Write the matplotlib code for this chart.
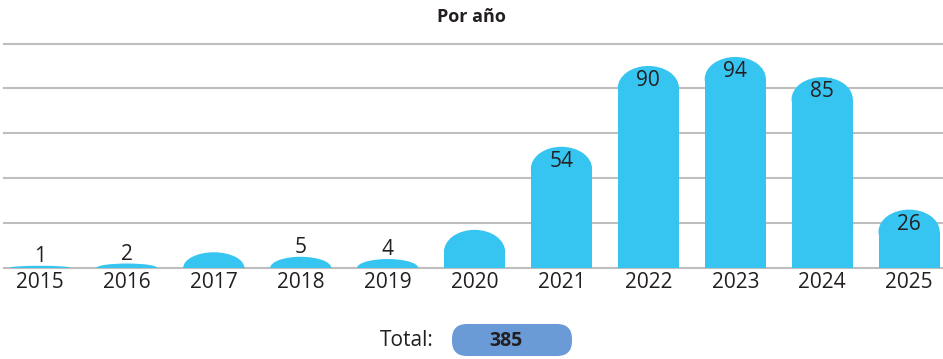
import numpy as np
import matplotlib.pyplot as plt
from matplotlib.patches import Ellipse, FancyBboxPatch

plt.rcParams['font.family'] = ['Liberation Sans Narrow', 'Open Sans', 'DejaVu Sans']

# Publications per year
years = ['2015', '2016', '2017', '2018', '2019', '2020',
         '2021', '2022', '2023', '2024', '2025']
counts = [1, 2, 7, 5, 4, 17, 54, 90, 94, 85, 26]
show_label = [True, True, False, True, True, False,
              True, True, True, True, True]
total = 385

BAR_COLOR = '#36C5F1'
PILL_COLOR = '#6A9BD7'
TEXT_COLOR = '#231F20'
GRID_COLOR = '#BEBEBE'

W, H = 943, 359
fig = plt.figure(figsize=(W / 100, H / 100), dpi=100)

# main axes: baseline at y=268 px, value 100 at y=43.5 px
ax = fig.add_axes([4 / W, 1 - 268 / H, 1 - 4 / W, (268 - 43.5) / H])
ax.set_xlim(-0.414, 10.39)
ax.set_ylim(0, 100)

for g in range(0, 101, 20):
    ax.axhline(g, color=GRID_COLOR, lw=1.5, zorder=1, clip_on=False)

x = np.arange(len(years))
width = 0.704
cap = 9.8  # height of the rounded top, in data units

vals = np.array(counts, dtype=float)
caps = np.minimum(vals, cap)
ax.bar(x, vals - caps, width=width, color=BAR_COLOR, zorder=2, linewidth=0)
for xi, v, c in zip(x, vals, caps):
    ax.add_patch(Ellipse((xi, v - c), width, 2 * c, facecolor=BAR_COLOR,
                         edgecolor='none', zorder=2))

for xi, v, show in zip(x, counts, show_label):
    if not show:
        continue
    if v >= 10:
        ax.annotate(str(v), (xi, v), xytext=(0, -10.5), textcoords='offset points',
                    ha='center', va='center', fontsize=15, color=TEXT_COLOR, zorder=3)
    else:
        ax.annotate(str(v), (xi, v), xytext=(0, 6.5), textcoords='offset points',
                    ha='center', va='center', fontsize=15, color=TEXT_COLOR, zorder=3)

ax.set_xticks(x)
ax.set_xticklabels(years, fontsize=15, color=TEXT_COLOR)
ax.tick_params(axis='x', length=0, pad=3)
ax.set_yticks([])
for s in ax.spines.values():
    s.set_visible(False)

# overlay in pixel coordinates for title and total box
ov = fig.add_axes([0, 0, 1, 1])
ov.set_xlim(0, W)
ov.set_ylim(H, 0)
ov.axis('off')

ov.text(471, 17, 'Por año', ha='center', va='center', fontsize=13,
        fontweight='bold', color=TEXT_COLOR)

ov.text(407, 340, 'Total:', ha='center', va='center', fontsize=15, color=TEXT_COLOR)
ov.add_patch(FancyBboxPatch((452, 324), 120, 32,
                            boxstyle='round,pad=0,rounding_size=15',
                            facecolor=PILL_COLOR, edgecolor='none'))
ov.text(506, 341, str(total), ha='center', va='center', fontsize=14,
        fontweight='bold', color=TEXT_COLOR)

fig.savefig('out.png', dpi=100, facecolor='white')
